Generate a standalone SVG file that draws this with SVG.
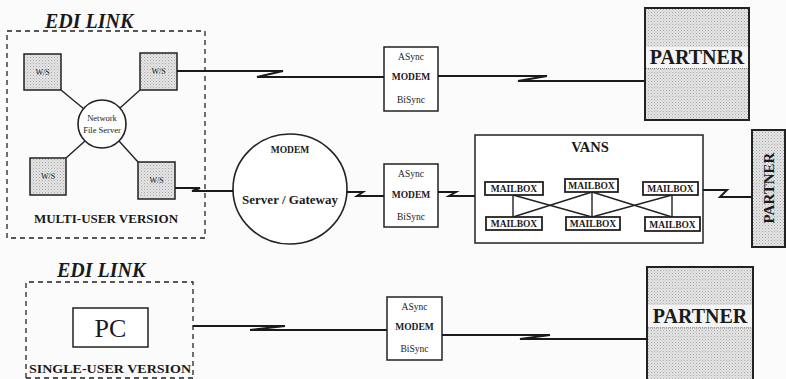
<svg xmlns="http://www.w3.org/2000/svg" width="786" height="379" viewBox="0 0 786 379">
<style>
text{font-family:"Liberation Serif","Times New Roman",serif;fill:#1a1a1a}
.b{font-weight:bold}
.title{font-weight:bold;font-style:italic;font-size:20px}
.dash{fill:none;stroke:#222;stroke-width:1.3;stroke-dasharray:5,4}
.box{fill:#fff;stroke:#222;stroke-width:1.5}
.ws{fill:url(#stip);stroke:#222;stroke-width:1.5}
.part{fill:url(#stip);stroke:#222;stroke-width:2}
.mb rect{fill:#fff;stroke:#222;stroke-width:1.8}
.mb text{font-size:9.5px;font-weight:bold}
.conn{fill:none;stroke:#1a1a1a;stroke-width:2;stroke-linejoin:miter}
.thin{fill:none;stroke:#222;stroke-width:1.4}
.m{font-size:9.5px}
</style>
<defs>
<pattern id="stip" patternUnits="userSpaceOnUse" width="3" height="3">
<rect width="3" height="3" fill="#e4e4e4"/>
<rect x="0" y="0" width="1" height="1" fill="#a9a9a9"/>
<rect x="1.5" y="1.5" width="1" height="1" fill="#c0c0c0"/>
</pattern>
</defs>
<rect width="786" height="379" fill="#fbfbfb"/>

<g id="multi-user">
<rect class="dash" x="7" y="31" width="198" height="207"/>
<text class="title" x="45" y="28">EDI LINK</text>
<text class="b" x="106" y="223" font-size="13" text-anchor="middle">MULTI-USER VERSION</text>
</g>
<g id="ws1"><rect class="ws" x="24" y="54" width="37" height="36"/><text x="42.5" y="75" font-size="8" text-anchor="middle">W/S</text></g>
<g id="ws2"><rect class="ws" x="140" y="53" width="37" height="37"/><text x="158.5" y="74" font-size="8" text-anchor="middle">W/S</text></g>
<g id="ws3"><rect class="ws" x="30" y="158" width="36" height="37"/><text x="48" y="179" font-size="8" text-anchor="middle">W/S</text></g>
<g id="ws4"><rect class="ws" x="138" y="162" width="37" height="37"/><text x="156.5" y="183" font-size="8" text-anchor="middle">W/S</text></g>
<g id="file-server">
<circle cx="102" cy="124" r="24" fill="#fff" stroke="#222" stroke-width="1.6"/>
<text x="102" y="121" font-size="8.5" text-anchor="middle">Network</text>
<text x="102" y="133" font-size="8.5" text-anchor="middle">File Server</text>
</g>

<g id="modem-top">
<rect class="box" x="384" y="47" width="54" height="64"/>
<text class="m" x="411" y="60" text-anchor="middle">ASync</text>
<text class="m b" x="411" y="80" text-anchor="middle">MODEM</text>
<text class="m" x="411" y="103" text-anchor="middle">BiSync</text>
</g>
<g id="partner-top">
<rect class="part" x="645" y="8" width="104" height="112"/>
<rect x="646" y="47" width="102" height="21" fill="#f4f4f4"/>
<line x1="646" y1="68.5" x2="748" y2="68.5" stroke="#888" stroke-width="1" stroke-dasharray="1,1"/>
<text class="b" x="697" y="64" font-size="20" text-anchor="middle">PARTNER</text>
</g>

<g id="gateway">
<ellipse cx="290" cy="189" rx="57" ry="55" fill="#fff" stroke="#222" stroke-width="1.6"/>
<text class="b" x="290" y="153" font-size="9.5" text-anchor="middle">MODEM</text>
<text class="b" x="290" y="204" font-size="13" text-anchor="middle">Server / Gateway</text>
</g>
<g id="modem-mid">
<rect class="box" x="384" y="164" width="54" height="63"/>
<text class="m" x="411" y="177" text-anchor="middle">ASync</text>
<text class="m b" x="411" y="198" text-anchor="middle">MODEM</text>
<text class="m" x="411" y="220" text-anchor="middle">BiSync</text>
</g>
<g id="vans">
<rect class="box" x="475" y="135" width="228" height="108"/>
<text class="b" x="590" y="152" font-size="14.5" text-anchor="middle">VANS</text>
</g>
<g id="partner-side">
<rect class="part" x="752" y="130" width="33" height="117"/>
<text class="b" transform="translate(774,188) rotate(-90)" font-size="15" text-anchor="middle">PARTNER</text>
</g>

<g id="single-user">
<path class="dash" d="M26,378 V282 H193 V378"/>
<line class="dash" x1="26" y1="378" x2="193" y2="378"/>
<text class="title" x="57" y="277" font-size="19.5">EDI LINK</text>
<text class="b" x="110" y="373" font-size="13" text-anchor="middle" textLength="162" lengthAdjust="spacingAndGlyphs">SINGLE-USER VERSION</text>
</g>
<g id="pc">
<rect class="box" x="73" y="308" width="75" height="39"/>
<text x="110.5" y="337" font-size="26" text-anchor="middle">PC</text>
</g>
<g id="modem-bottom">
<rect class="box" x="387" y="297" width="55" height="63"/>
<text class="m" x="414.5" y="310" text-anchor="middle">ASync</text>
<text class="m b" x="414.5" y="330" text-anchor="middle">MODEM</text>
<text class="m" x="414.5" y="352" text-anchor="middle">BiSync</text>
</g>
<g id="partner-bottom">
<rect class="part" x="647" y="267" width="106" height="116"/>
<rect x="648" y="305" width="104" height="22" fill="#f4f4f4"/>
<line x1="648" y1="328" x2="752" y2="328" stroke="#888" stroke-width="1" stroke-dasharray="1,1"/>
<text class="b" x="700" y="323" font-size="20" text-anchor="middle">PARTNER</text>
</g>

<g id="connectors">
<line class="thin" x1="61" y1="90" x2="84" y2="109"/>
<line class="thin" x1="140" y1="90" x2="120" y2="108"/>
<line class="thin" x1="66" y1="158" x2="85" y2="141"/>
<line class="thin" x1="138" y1="162" x2="119" y2="141"/>
<polyline class="conn" points="177,71 283,71 257,77 384,77"/>
<polyline class="conn" points="438,76 547,76 518,81 645,81"/>
<polyline class="conn" points="175,188 200,188 192,191 233,191"/>
<polyline class="conn" points="347,192 363,192 357,196 384,196"/>
<polyline class="conn" points="438,192 456,192 449,196 475,196"/>
<polyline class="conn" points="703,190 727,190 720,197 752,197"/>
<polyline class="conn" points="193,326 285,326 250,330 387,330"/>
<polyline class="conn" points="442,335 550,335 520,339 648,339"/>
<line class="thin" x1="513" y1="195" x2="513" y2="217"/>
<line class="thin" x1="592" y1="192" x2="592" y2="217"/>
<line class="thin" x1="672" y1="195" x2="672" y2="217"/>
<line class="thin" x1="513" y1="195" x2="592" y2="217"/>
<line class="thin" x1="513" y1="217" x2="592" y2="192"/>
<line class="thin" x1="592" y1="192" x2="672" y2="217"/>
<line class="thin" x1="592" y1="217" x2="672" y2="195"/>
</g>

<g id="mailbox1" class="mb"><rect x="485" y="182" width="58" height="13"/><text x="514" y="192" text-anchor="middle">MAILBOX</text></g>
<g id="mailbox2" class="mb"><rect x="565" y="179" width="53" height="13"/><text x="591.5" y="189" text-anchor="middle">MAILBOX</text></g>
<g id="mailbox3" class="mb"><rect x="643" y="182" width="55" height="13"/><text x="670.5" y="192" text-anchor="middle">MAILBOX</text></g>
<g id="mailbox4" class="mb"><rect x="486" y="217" width="56" height="13"/><text x="514" y="227" text-anchor="middle">MAILBOX</text></g>
<g id="mailbox5" class="mb"><rect x="566" y="217" width="54" height="13"/><text x="593" y="227" text-anchor="middle">MAILBOX</text></g>
<g id="mailbox6" class="mb"><rect x="645" y="217" width="55" height="14"/><text x="672.5" y="227.5" text-anchor="middle">MAILBOX</text></g>
</svg>
